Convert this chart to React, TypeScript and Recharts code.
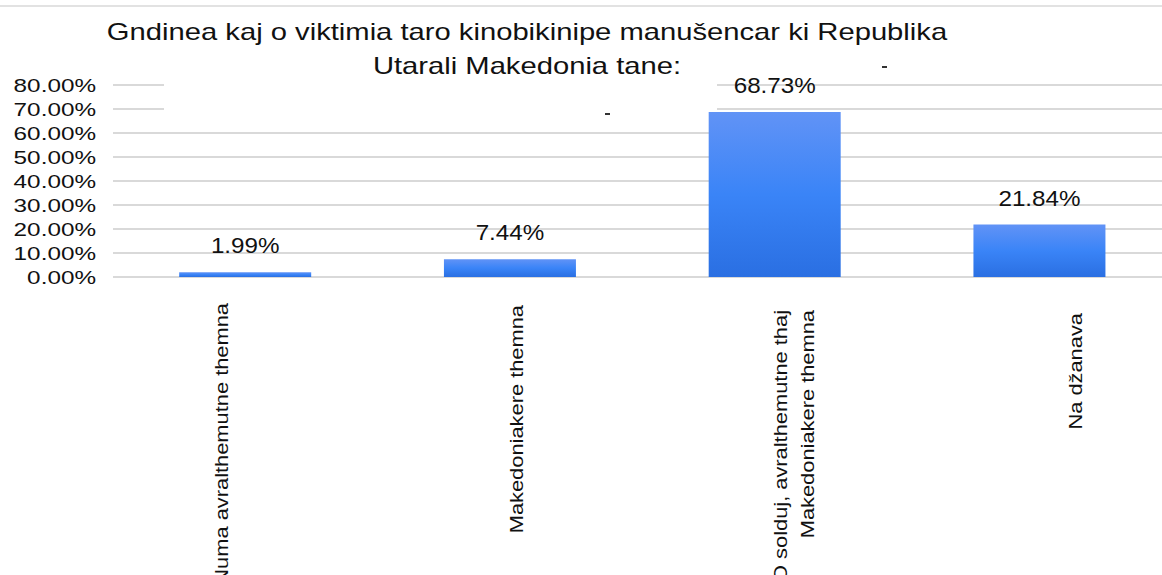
import { Bar, BarChart, CartesianGrid, LabelList, XAxis, YAxis } from "recharts";

const categories = [
  "Numa avralthemutne themna",
  "Makedoniakere themna",
  "O solduj, avralthemutne thaj\nMakedoniakere themna",
  "Na džanava",
];
const shares = [0.0199, 0.0744, 0.6873, 0.2184];
const yTicks = [0, 0.1, 0.2, 0.3, 0.4, 0.5, 0.6, 0.7, 0.8];
const titleLines = [
  "Gndinea kaj o viktimia taro kinobikinipe manušencar ki Republika",
  "Utarali Makedonia tane:",
];

const data = categories.map((name, i) => ({ name, value: shares[i] }));

const FONT = '"Liberation Sans", Arial, sans-serif';
const pct = (v: number) => `${(v * 100).toFixed(2)}%`;

// the source labels sit a bit off-centre, so nudge them like the original
const catDx = [-17, 13, 12, 42];
const catDy = [26, 28, 33, 36];

function YTick(props: any) {
  const { y, payload } = props;
  return (
    <text
      transform={`translate(96, ${y + 7}) scale(1.35, 1)`}
      textAnchor="end"
      fontSize={18}
      fontFamily={FONT}
      fill="#111"
    >
      {pct(payload.value)}
    </text>
  );
}

function CatTick(props: any) {
  const { x, y, payload, index } = props;
  const lines = String(payload.value).split("\n");
  return (
    <g transform={`translate(${x + catDx[index]}, ${y + catDy[index]})`}>
      <text
        transform="rotate(-90) scale(1.15, 1)"
        textAnchor="end"
        fontSize={19}
        fontFamily={FONT}
        fill="#111"
      >
        {lines.map((line, i) => (
          <tspan key={i} x={0} y={i * 27}>
            {line}
          </tspan>
        ))}
      </text>
    </g>
  );
}

function ValueLabel(props: any) {
  const { x, y, width, value } = props;
  return (
    <text
      transform={`translate(${x + width / 2}, ${y - 19}) scale(1.1, 1)`}
      textAnchor="middle"
      fontSize={22}
      fontFamily={FONT}
      fill="#111"
    >
      {pct(value)}
    </text>
  );
}

export default function App() {
  return (
    <div
      style={{
        position: "absolute",
        left: 0,
        top: 0,
        width: 1162,
        height: 575,
        overflow: "hidden",
        background: "#fff",
      }}
    >
      <BarChart
        width={1172}
        height={575}
        data={data}
        margin={{ top: 85, right: 0, bottom: 0, left: 0 }}
        barCategoryGap="25%"
      >
        <defs>
          <linearGradient id="barFill" x1="0" y1="0" x2="0" y2="1">
            <stop offset="0%" stopColor="#6193f6" />
            <stop offset="50%" stopColor="#3a84f7" />
            <stop offset="100%" stopColor="#2a6fe2" />
          </linearGradient>
        </defs>
        <CartesianGrid vertical={false} stroke="#d9d9d9" strokeWidth={2} />
        <XAxis
          dataKey="name"
          height={298}
          interval={0}
          axisLine={false}
          tickLine={false}
          tickSize={0}
          tickMargin={0}
          tick={<CatTick />}
        />
        <YAxis
          width={113}
          domain={[0, 0.8]}
          ticks={yTicks}
          axisLine={false}
          tickLine={false}
          tick={<YTick />}
        />
        <Bar dataKey="value" fill="url(#barFill)" isAnimationActive={false}>
          <LabelList dataKey="value" content={<ValueLabel />} />
        </Bar>
      </BarChart>
      <svg
        width={1162}
        height={575}
        style={{ position: "absolute", left: 0, top: 0, pointerEvents: "none" }}
      >
        <line x1={0} x2={1162} y1={6} y2={6} stroke="#e2e2e2" strokeWidth={2} />
        <rect x={164} y={8} width={553} height={103} fill="#fff" />
        {titleLines.map((t, i) => (
          <text
            key={i}
            transform={`translate(527, ${40 + i * 34}) scale(1.27, 1)`}
            textAnchor="middle"
            fontSize={23}
            fontFamily={FONT}
            fill="#111"
          >
            {t}
          </text>
        ))}
        <rect x={605} y={113} width={5} height={2} fill="#333" />
        <rect x={882} y={66} width={5} height={2} fill="#333" />
      </svg>
    </div>
  );
}
